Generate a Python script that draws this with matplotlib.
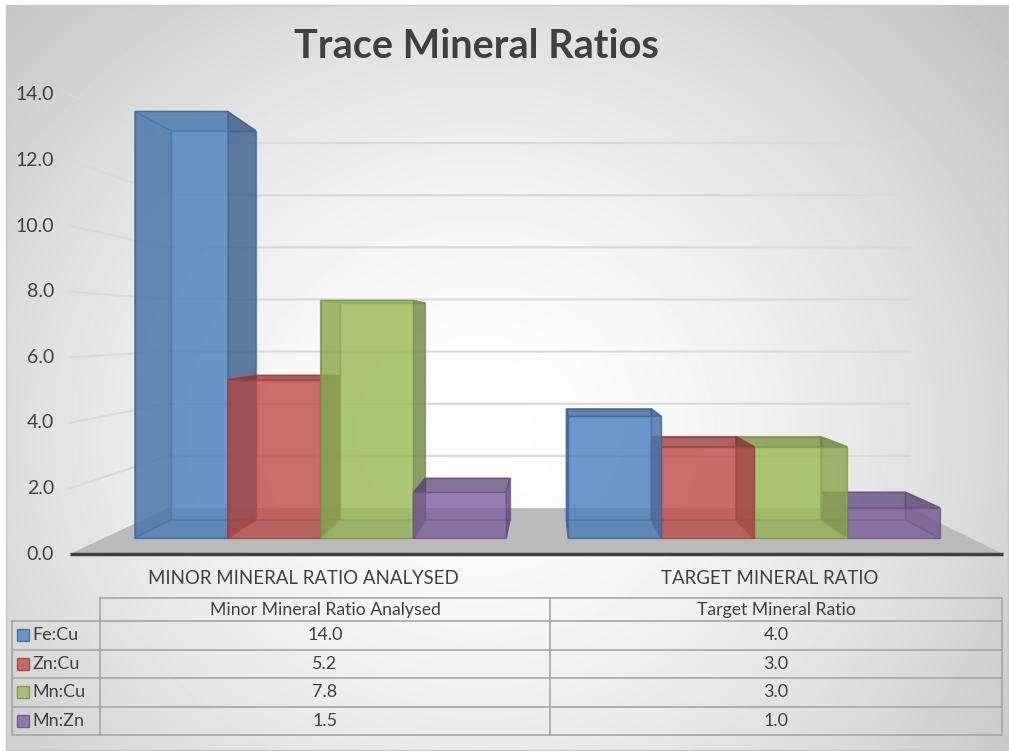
import numpy as np
import matplotlib.pyplot as plt
from matplotlib.patches import Polygon, Rectangle
from matplotlib.colors import to_rgb

plt.rcParams['font.family'] = ['Lato', 'DejaVu Sans']

# data
categories = ['Minor Mineral Ratio Analysed', 'Target Mineral Ratio']
series = ['Fe:Cu', 'Zn:Cu', 'Mn:Cu', 'Mn:Zn']
fe_cu = [14.0, 4.0]
zn_cu = [5.2, 3.0]
mn_cu = [7.8, 3.0]
mn_zn = [1.5, 1.0]
yticks = [0, 2, 4, 6, 8, 10, 12, 14]
colors = ['#4f81bd', '#c0504d', '#9bbb59', '#8064a2']
values = [fe_cu, zn_cu, mn_cu, mn_zn]

W, H = 1009, 751
fig = plt.figure(figsize=(W / 100, H / 100), dpi=100)
ax = fig.add_axes([0, 0, 1, 1])

# perspective set-up in pixel space
VX, VY = 547, 330          # vanishing point
Y0, K = 554, 32.8          # zero line and px per unit on the front plane
X0, X1 = 70, 1003          # floor front edge
S_BACK = 0.795             # depth scale of back wall
S_F, S_B = 0.929, 0.848    # depth scale of bar front / back


def proj(x, v, s):
    return VX + (x - VX) * s, VY + (Y0 - K * v - VY) * s


def shade(c, f):
    r, g, b = to_rgb(c)
    return (r * f, g * f, b * f)


# background radial gradient
yy, xx = np.mgrid[5:750, 6:1009]
d = np.hypot(xx - 480, (yy - 430) * 1.1)
g = 1 - 0.25 * np.clip(d / 700, 0, 1) ** 1.6
ax.imshow(g, cmap='gray', vmin=0, vmax=1, extent=(6, 1009, 750, 5),
          aspect='auto', zorder=0, interpolation='bilinear')
ax.add_patch(Rectangle((6, 5), 1002, 745, fill=False, edgecolor='#c8c8c8', lw=1, zorder=1))

# gridlines on side wall and back wall
for t in yticks:
    if t > 0:
        xa, ya = proj(X0, t, 1)
        xb, yb = proj(X0, t, S_BACK)
        xc, yc = proj(X1, t, S_BACK)
        ax.plot([xa, xb, xc], [ya, yb, yc], color='#d9d9d9', lw=1.5, zorder=2)
    ax.text(54, proj(X0, t, 1)[1], f'{t:.1f}', ha='right', va='center',
            fontsize=14, color='#404040')

# floor
floor = [proj(X0, 0, 1), proj(X1, 0, 1), proj(X1, 0, S_BACK), proj(X0, 0, S_BACK)]
ax.add_patch(Polygon(floor, closed=True, facecolor='#bababa', edgecolor='none', zorder=3))
ax.plot([X0, X1], [Y0, Y0], color='#3f3f3f', lw=2.5, zorder=3, solid_capstyle='butt')

# bars
cw = (X1 - X0) / len(categories)
gw = cw * 0.857
bw = gw / len(series)
bars = []
for j in range(len(categories)):
    for i in range(len(series)):
        a = X0 + cw * (j + 0.5) - gw / 2 + i * bw
        bars.append((a, a + bw, values[i][j], colors[i]))
bars.sort(key=lambda b: -abs((b[0] + b[1]) / 2 - VX))

z = 4
for a, b, v, c in bars:
    def face(pts, col, alpha):
        global z
        ax.add_patch(Polygon(pts, closed=True, facecolor=col, alpha=alpha,
                             edgecolor='none', zorder=z))
        ax.add_patch(Polygon(pts, closed=True, fill=False,
                             edgecolor=shade(c, 0.8), lw=1, alpha=0.7, zorder=z))
        z += 0.01
    back = [proj(a, 0, S_B), proj(b, 0, S_B), proj(b, v, S_B), proj(a, v, S_B)]
    bottom = [proj(a, 0, S_F), proj(b, 0, S_F), proj(b, 0, S_B), proj(a, 0, S_B)]
    left = [proj(a, 0, S_F), proj(a, 0, S_B), proj(a, v, S_B), proj(a, v, S_F)]
    right = [proj(b, 0, S_F), proj(b, 0, S_B), proj(b, v, S_B), proj(b, v, S_F)]
    top = [proj(a, v, S_F), proj(b, v, S_F), proj(b, v, S_B), proj(a, v, S_B)]
    front = [proj(a, 0, S_F), proj(b, 0, S_F), proj(b, v, S_F), proj(a, v, S_F)]
    face(back, c, 0.55)
    face(bottom, shade(c, 0.75), 0.45)
    face(left, shade(c, 0.6), 0.55)
    face(right, shade(c, 0.6), 0.55)
    face(top, shade(c, 0.7), 0.55)
    face(front, c, 0.62)

# category labels
for j, cat in enumerate(categories):
    ax.text(X0 + cw * (j + 0.5), 579, cat.upper(), ha='center', va='center',
            fontsize=13.4, color='#404040')

# data table
tl, tm, tr = 100, 550, 1002
ty = [598, 621, 649.5, 678, 706.5, 735]
lc = '#a6a6a6'
ax.plot([tl, tr], [ty[0], ty[0]], color=lc, lw=1.2)
for y in ty[1:]:
    ax.plot([12, tr], [y, y], color=lc, lw=1.2)
for x in (tl, tm, tr):
    ax.plot([x, x], [ty[0], ty[-1]], color=lc, lw=1.2)
ax.plot([12, 12], [ty[1], ty[-1]], color=lc, lw=1.2)

col_x = [(tl + tm) / 2, (tm + tr) / 2]
for j, cat in enumerate(categories):
    ax.text(col_x[j], (ty[0] + ty[1]) / 2, cat, ha='center', va='center',
            fontsize=12.7, color='#404040')
for i, name in enumerate(series):
    yc = (ty[i + 1] + ty[i + 2]) / 2
    ax.add_patch(Rectangle((17, yc - 6), 12, 12, facecolor=colors[i], alpha=0.8,
                           edgecolor=shade(colors[i], 0.75), lw=1, zorder=5))
    ax.text(32, yc, name, ha='left', va='center', fontsize=13, color='#404040')
    for j in range(len(categories)):
        ax.text(col_x[j], yc, f'{values[i][j]:.1f}', ha='center', va='center',
                fontsize=13, color='#404040')

# title
ax.text(476, 47, 'Trace Mineral Ratios', ha='center', va='center',
        fontsize=28.5, fontweight='bold', color='#404040')

ax.set_xlim(0, W)
ax.set_ylim(H, 0)
ax.axis('off')
fig.savefig('out.png', dpi=100)
